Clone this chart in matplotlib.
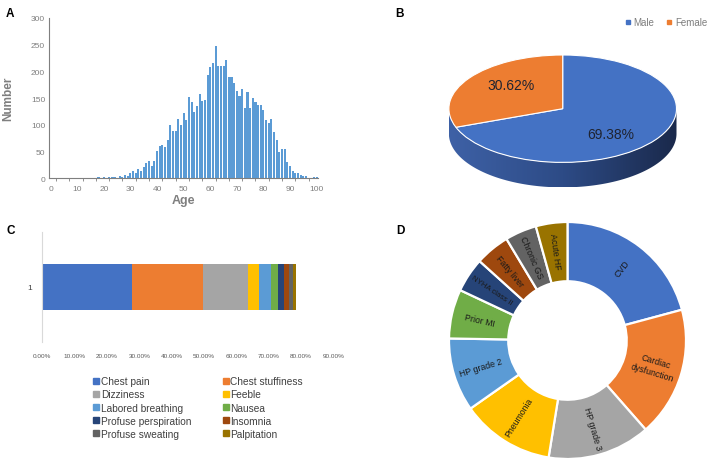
import numpy as np
import matplotlib
matplotlib.use("Agg")
import matplotlib.pyplot as plt
from matplotlib.patches import Polygon
from matplotlib.lines import Line2D
from matplotlib.colors import LinearSegmentedColormap

plt.rcParams["font.family"] = ["Liberation Sans", "DejaVu Sans"]

# panel A: age distribution
ages = list(range(17, 101))
age_counts = [1, 2, 1, 2, 1, 2, 3, 2, 1, 5,
              2, 6, 5, 9, 13, 9, 17, 13, 22, 28,
              33, 23, 32, 51, 61, 62, 58, 72, 100, 88,
              88, 111, 100, 122, 109, 153, 143, 124, 135, 158,
              145, 146, 193, 208, 216, 247, 210, 211, 210, 221,
              190, 190, 179, 163, 154, 168, 131, 161, 131, 150,
              142, 137, 137, 127, 109, 103, 111, 87, 71, 49,
              55, 55, 31, 23, 14, 9, 9, 7, 5, 5,
              1, 0, 2, 2]

# panel B: sex
sex_labels = ["Male", "Female"]
sex_pct = [69.38, 30.62]
sex_colors = ["#4472C4", "#ED7D31"]

# panel C: symptoms (share of patients, %)
symptoms = ["Chest pain", "Chest stuffiness", "Dizziness", "Feeble",
            "Labored breathing", "Nausea", "Profuse perspiration",
            "Insomnia", "Profuse sweating", "Palpitation"]
symptom_pct = [27.7, 22.1, 13.8, 3.5, 3.6, 2.2, 1.8, 1.5, 1.3, 1.1]
symptom_colors = ["#4472C4", "#ED7D31", "#A5A5A5", "#FFC000", "#5B9BD5",
                  "#70AD47", "#264478", "#9E480E", "#636363", "#997300"]

# panel D: comorbidities
diseases = ["CVD", "Cardiac\ndysfunction", "HP grade 3", "Pneumonia",
            "HP grade 2", "Prior MI", "NYHA class II", "Fatty liver",
            "Chronic GS", "Acute HF"]
disease_share = [20.8, 17.7, 14.0, 12.7, 10.0, 6.7, 4.7, 4.7, 4.3, 4.3]
disease_colors = ["#4472C4", "#ED7D31", "#A5A5A5", "#FFC000", "#5B9BD5",
                  "#70AD47", "#264478", "#9E480E", "#636363", "#997300"]

W, H = 708, 464


def box(x0, y0, x1, y1):
    # pixel box (top-left origin) -> figure fraction rect
    return [x0 / W, 1 - y1 / H, (x1 - x0) / W, (y1 - y0) / H]


fig = plt.figure(figsize=(W / 100, H / 100), dpi=100)

# ---------------- A ----------------
axA = fig.add_axes(box(49.3, 19, 318, 179.3))
axA.bar(ages, age_counts, width=0.78, color="#5B9BD5", edgecolor="none")
axA.set_xlim(-0.5, 100.5)
axA.set_ylim(0, 300)
axA.set_xticks(range(0, 101, 10))
axA.set_yticks(range(0, 301, 50))
axA.set_xticks(np.arange(2, 100, 5), minor=True)
axA.tick_params(axis="x", which="major", length=0, labelsize=6,
                labelcolor="#7f7f7f", pad=5)
axA.tick_params(axis="y", which="major", length=0, labelsize=6,
                labelcolor="#7f7f7f", pad=3)
axA.tick_params(axis="x", which="minor", length=2, color="#7f7f7f", width=0.6)
for s in ["top", "right"]:
    axA.spines[s].set_visible(False)
for s in ["left", "bottom"]:
    axA.spines[s].set_color("#7f7f7f")
    axA.spines[s].set_linewidth(0.8)
axA.set_xlabel("Age", fontsize=9, fontweight="bold", color="#7f7f7f", labelpad=1)
axA.set_ylabel("Number", fontsize=8.5, fontweight="bold", color="#7f7f7f", labelpad=12)

# ---------------- B ----------------
cxB, cyB = 562.7, 109.7
rx, ry = 113.8, 53.7
depth = 25 / ry
x0, x1, y0, y1 = 400, 708, 0, 215
axB = fig.add_axes(box(x0, y0, x1, y1))
wedgesB, _, autotexts = axB.pie(sex_pct, colors=sex_colors, startangle=90,
                                counterclock=False, autopct="%.2f%%",
                                pctdistance=0.62,
                                wedgeprops=dict(edgecolor="white", linewidth=0.8),
                                textprops=dict(fontsize=10, color="#1f2330"))
for w in wedgesB:
    w.set_zorder(3)
for t in autotexts:
    t.set_zorder(4)
autotexts[0].set_position((0.42, -0.47))
autotexts[1].set_position((-0.45, 0.44))

# side of the 3D disc
th = np.linspace(np.pi, 2 * np.pi, 200)
top = np.column_stack([np.cos(th), np.sin(th)])
bot = np.column_stack([np.cos(th[::-1]), np.sin(th[::-1]) - depth])
side = Polygon(np.vstack([top, bot]), closed=True, facecolor="none", edgecolor="none")
axB.add_patch(side)
cmap = LinearSegmentedColormap.from_list("side", ["#3e61a6", "#2d4b86", "#1a294b"])
grad = np.linspace(0, 1, 256).reshape(1, -1)
im = axB.imshow(grad, cmap=cmap, extent=[-1, 1, -1 - depth, 0], aspect="auto",
                zorder=2)
im.set_clip_path(side)
axB.set_aspect("auto")
axB.set_xlim((x0 - cxB) / rx, (x1 - cxB) / rx)
axB.set_ylim(-(y1 - cyB) / ry, -(y0 - cyB) / ry)
axB.axis("off")

legB = [Line2D([], [], marker="s", linestyle="", markersize=3.2, color=c)
        for c in sex_colors]
fig.legend(legB, sex_labels, loc="center", bbox_to_anchor=(666 / W, 1 - 23 / H),
           ncol=2, frameon=False, fontsize=7, labelcolor="#7f7f7f",
           handlelength=0.6, handletextpad=0.3, columnspacing=1.2)

# ---------------- C ----------------
axC = fig.add_axes(box(42.3, 233, 333.3, 343))
left = 0
for name, v, c in zip(symptoms, symptom_pct, symptom_colors):
    axC.barh(1, v, left=left, height=0.41, color=c, label=name)
    left += v
axC.set_xlim(0, 90)
axC.set_ylim(0.5, 1.5)
axC.set_xticks(range(0, 91, 10))
axC.set_xticklabels(["%.2f%%" % v for v in range(0, 91, 10)])
axC.set_yticks([1])
axC.set_yticklabels(["1"])
axC.tick_params(axis="x", length=0, labelsize=4.6, labelcolor="#595959", pad=8)
axC.tick_params(axis="y", length=0, labelsize=6, labelcolor="#404040", pad=7)
for s in ["top", "right", "bottom"]:
    axC.spines[s].set_visible(False)
axC.spines["left"].set_color("#d9d9d9")
axC.spines["left"].set_linewidth(0.8)

order = [0, 2, 4, 6, 8, 1, 3, 5, 7, 9]
legC = [Line2D([], [], marker="s", linestyle="", markersize=4.2,
               color=symptom_colors[i]) for i in order]
fig.legend(legC, [symptoms[i] for i in order], loc="upper left",
           bbox_to_anchor=(88 / W, 1 - 372 / H), ncol=2, frameon=False,
           fontsize=7.3, labelcolor="#404040", handlelength=0.6,
           handletextpad=0.15, columnspacing=3.1, labelspacing=0.32,
           borderpad=0)

# ---------------- D ----------------
cxD, cyD, R = 567.5, 464 - 341.5, 118.5
dx0, dx1, dy0, dy1 = 430, 705, 205, 464
axD = fig.add_axes(box(dx0, dy0, dx1, dy1))
wedgesD, _ = axD.pie(disease_share, colors=disease_colors, startangle=90,
                     counterclock=False, radius=R, center=(cxD, cyD),
                     wedgeprops=dict(width=R * 0.5, edgecolor="white", linewidth=1.6))
for w, name in zip(wedgesD, diseases):
    mid = np.deg2rad((w.theta1 + w.theta2) / 2)
    r = R * 0.765
    rot = np.rad2deg(mid)
    rot = (rot + 180) % 360 - 180
    if rot > 90:
        rot -= 180
    elif rot < -90:
        rot += 180
    longest = max(len(part) for part in name.split("\n"))
    axD.text(cxD + r * np.cos(mid), cyD + r * np.sin(mid), name, rotation=rot,
             rotation_mode="anchor", ha="center", va="center",
             fontsize=5.6 if longest > 11 else 6.3,
             color="#1a1a1a", linespacing=1.3)
axD.set_aspect("auto")
axD.set_xlim(dx0, dx1)
axD.set_ylim(H - dy1, H - dy0)
axD.axis("off")

# panel letters
for letter, (px, py) in zip("ABCD", [(10, 14), (399, 14), (11, 231), (400, 231)]):
    fig.text(px / W, 1 - py / H, letter, fontsize=8.5, fontweight="bold",
             ha="center", va="center", color="black")

fig.savefig("out.png", dpi=100)
